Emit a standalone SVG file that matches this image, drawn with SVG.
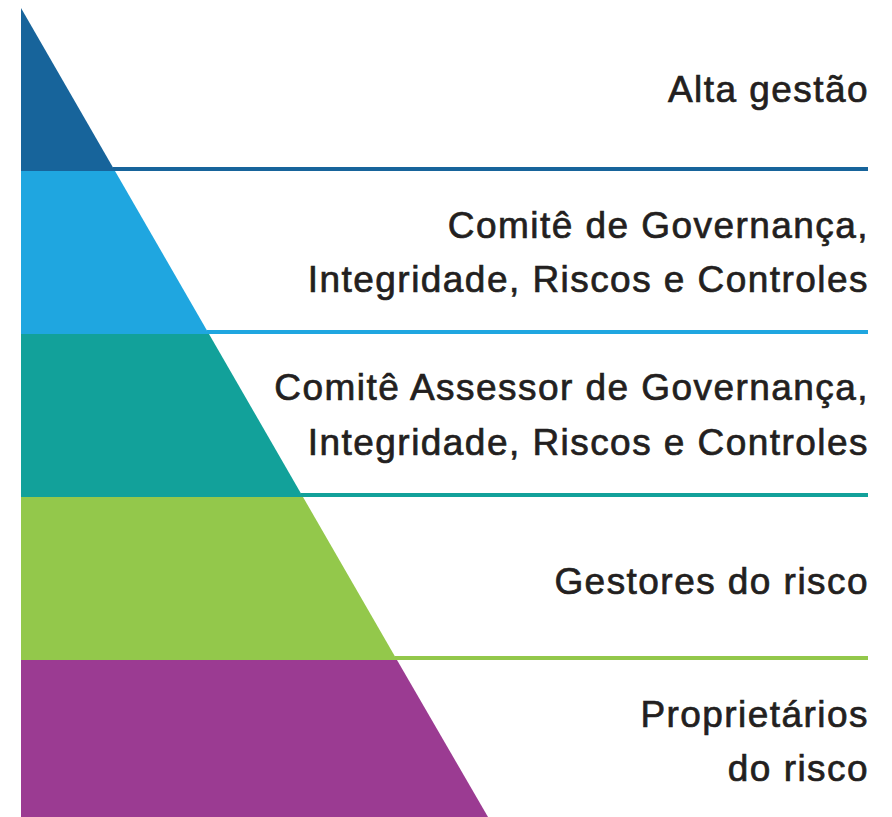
<svg xmlns="http://www.w3.org/2000/svg" width="892" height="817" viewBox="0 0 892 817">
<style>
.t{font-family:"Liberation Sans",Arial,sans-serif;font-size:37px;fill:#231f20;stroke:#231f20;stroke-width:0.7px;text-anchor:end;letter-spacing:1.45px}
</style>
<rect width="892" height="817" fill="#fff"/>
<g id="level1">
<polygon points="21,8 115,171 21,171" fill="#17649b"/>
<rect x="113" y="167" width="755" height="4" fill="#17649b"/>
<text class="t" x="869" y="102">Alta gestão</text>
</g>
<g id="level2">
<polygon points="21,171 115,171 209,334 21,334" fill="#1fa6e0"/>
<rect x="207" y="330" width="661" height="4" fill="#1fa6e0"/>
<text class="t" x="869" y="238">Comitê de Governança,</text>
<text class="t" x="869" y="292">Integridade, Riscos e Controles</text>
</g>
<g id="level3">
<polygon points="21,334 209,334 303,497 21,497" fill="#12a19a"/>
<rect x="301" y="493" width="567" height="4" fill="#12a19a"/>
<text class="t" x="869" y="400">Comitê Assessor de Governança,</text>
<text class="t" x="869" y="455">Integridade, Riscos e Controles</text>
</g>
<g id="level4">
<polygon points="21,497 303,497 397,660 21,660" fill="#93c84b"/>
<rect x="395" y="656" width="473" height="4" fill="#93c84b"/>
<text class="t" x="869" y="594">Gestores do risco</text>
</g>
<g id="level5">
<polygon points="21,660 397,660 488,817 21,817" fill="#9b3b92"/>
<text class="t" x="869" y="727">Proprietários</text>
<text class="t" x="869" y="781">do risco</text>
</g>
</svg>
